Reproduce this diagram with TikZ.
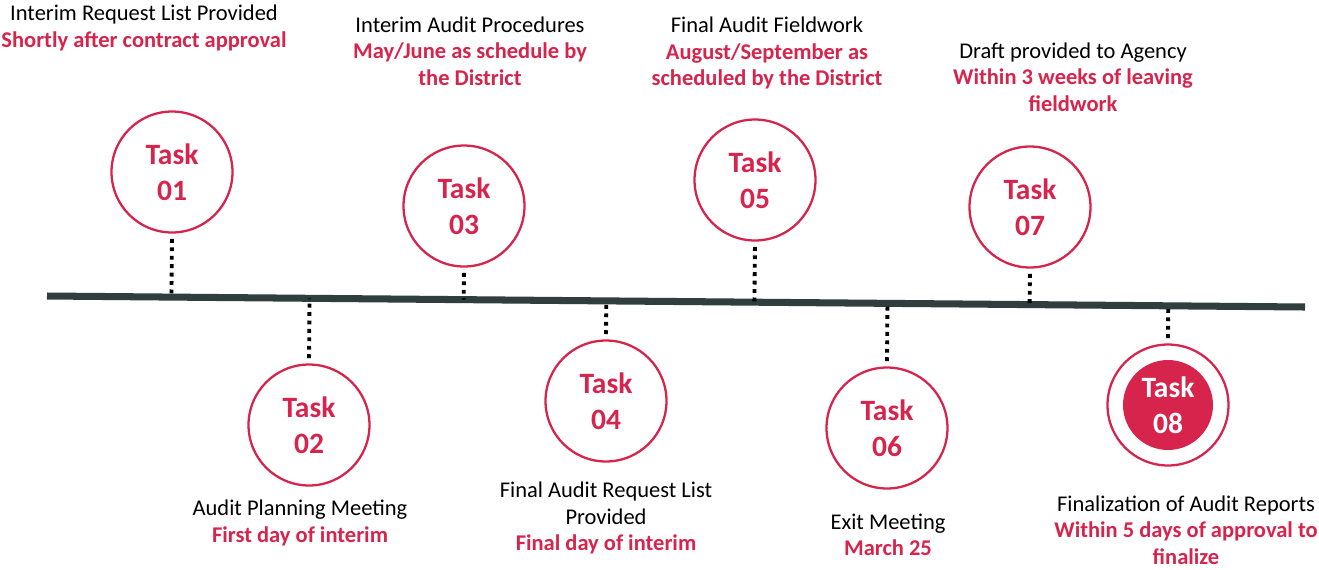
\documentclass[tikz,border=0pt]{standalone}
\usepackage{fontspec}
\setmainfont{Carlito}
\usepackage{xcolor}
\usetikzlibrary{positioning,calc}
\definecolor{taskred}{RGB}{214,36,76}
\definecolor{axisgray}{RGB}{48,62,62}

\begin{document}
\begin{tikzpicture}[x=0.02cm, y=-0.02cm,
  task/.style={draw=taskred, line width=1.3pt, circle, minimum size=2.42cm, inner sep=0pt, align=center, text=taskred, font=\fontsize{16.8}{20.5}\selectfont\bfseries},
  done/.style={circle, fill=taskred, minimum size=1.8cm, inner sep=0pt, align=center, text=white, font=\fontsize{16.8}{20.5}\selectfont\bfseries},
  caption/.style={align=center, inner sep=0pt, font=\fontsize{12.8}{15}\selectfont},
  axis/.style={axisgray, line width=4pt},
  link/.style={black, line width=2.2pt, dash pattern=on 2.2pt off 2.6pt, shorten <=3pt}
]
\useasboundingbox (0,0) rectangle (1319,569);

% Timeline
\coordinate (axisL) at (47,296);
\coordinate (axisR) at (1305,307);
\draw[axis] (axisL) -- (axisR);

% Tasks above the line
\node[task] (t1) at (172,172) {Task\\01};
\node[task] (t3) at (464,206) {Task\\03};
\node[task] (t5) at (755,180) {Task\\05};
\node[task] (t7) at (1030,207) {Task\\07};

% Tasks below the line
\node[task] (t2) at (309,425) {Task\\02};
\node[task] (t4) at (606,401) {Task\\04};
\node[task] (t6) at (887,428) {Task\\06};
\node[task] (t8ring) at (1168,405) {};
\node[done] (t8) at (t8ring) {Task\\08};

% Dotted links to the timeline
\draw[link] (t1.south) -- ($(axisL)!(t1.south)!(axisR)$);
\draw[link] (t3.south) -- ($(axisL)!(t3.south)!(axisR)$);
\draw[link] (t5.south) -- ($(axisL)!(t5.south)!(axisR)$);
\draw[link] (t7.south) -- ($(axisL)!(t7.south)!(axisR)$);
\draw[link] (t2.north) -- ($(axisL)!(t2.north)!(axisR)$);
\draw[link] (t4.north) -- ($(axisL)!(t4.north)!(axisR)$);
\draw[link] (t6.north) -- ($(axisL)!(t6.north)!(axisR)$);
\draw[link] (t8ring.north) -- ($(axisL)!(t8ring.north)!(axisR)$);

% Captions
\node[caption] (c1) at (144,28) {Interim Request List Provided\\\textcolor{taskred}{\bfseries Shortly after contract approval}};
\node[caption] (c3) at (470,51) {Interim Audit Procedures\\\textcolor{taskred}{\bfseries May/June as schedule by}\\\textcolor{taskred}{\bfseries the District}};
\node[caption] (c5) at (767,53) {Final Audit Fieldwork\\\textcolor{taskred}{\bfseries August/September as}\\\textcolor{taskred}{\bfseries scheduled by the District}};
\node[caption] (c7) at (1073,77) {Draft provided to Agency\\\textcolor{taskred}{\bfseries Within 3 weeks of leaving}\\\textcolor{taskred}{\bfseries fieldwork}};
\node[caption] (c2) at (300,523) {Audit Planning Meeting\\\textcolor{taskred}{\bfseries First day of interim}};
\node[caption] (c4) at (606,518) {Final Audit Request List\\Provided\\\textcolor{taskred}{\bfseries Final day of interim}};
\node[caption] (c6) at (888,535) {Exit Meeting\\\textcolor{taskred}{\bfseries March 25}};
\node[caption] (c8) at (1186,530) {Finalization of Audit Reports\\\textcolor{taskred}{\bfseries Within 5 days of approval to}\\\textcolor{taskred}{\bfseries finalize}};

\end{tikzpicture}
\end{document}
